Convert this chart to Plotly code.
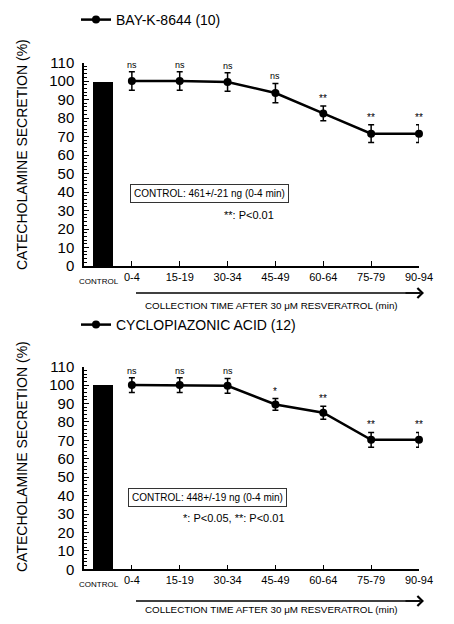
import plotly.graph_objects as go

# ---- data ----
categories = ["0-4", "15-19", "30-34", "45-49", "60-64", "75-79", "90-94"]
control_label = "CONTROL"
control_value = 100

bay_name = "BAY-K-8644 (10)"
bay_values = [100, 100, 99.5, 93.5, 82.5, 71.5, 71.5]
bay_errors = [5, 5, 5, 5.2, 4, 4.8, 4.8]
bay_sig = ["ns", "ns", "ns", "ns", "**", "**", "**"]
bay_box = "CONTROL: 461+/-21 ng (0-4 min)"
bay_p = "**: P<0.01"

cpa_name = "CYCLOPIAZONIC ACID (12)"
cpa_values = [100, 100, 99.6, 89.5, 85, 70.3, 70.3]
cpa_errors = [4, 4, 4, 3.2, 3.5, 4, 4]
cpa_sig = ["ns", "ns", "ns", "*", "**", "**", "**"]
cpa_box = "CONTROL: 448+/-19 ng (0-4 min)"
cpa_p = "*: P<0.05, **: P<0.01"

y_title = "CATECHOLAMINE SECRETION (%)"
x_caption = "COLLECTION TIME AFTER 30 \u03bcM RESVERATROL (min)"

W, H = 454, 624
FONT = "Liberation Sans, Arial, sans-serif"

xpos = list(range(len(categories)))
control_x = -0.6

fig = go.Figure()

panels = [
    dict(name=bay_name, vals=bay_values, errs=bay_errors, sig=bay_sig, box=bay_box, p=bay_p,
         xa="x", ya="y", dom=(1 - 266 / H, 1 - 62.5 / H), legend="legend",
         leg_y=1 - 20 / H, title_y=1 - 155 / H, arrow_y=1 - 293 / H, cap_y=1 - 305 / H,
         box_xy=(1.63, 39), p_xy=(2.45, 27.6)),
    dict(name=cpa_name, vals=cpa_values, errs=cpa_errors, sig=cpa_sig, box=cpa_box, p=cpa_p,
         xa="x2", ya="y2", dom=(1 - 569.3 / H, 1 - 366.7 / H), legend="legend2",
         leg_y=1 - 325 / H, title_y=1 - 457 / H, arrow_y=1 - 601 / H, cap_y=1 - 609.5 / H,
         box_xy=(1.59, 38.8), p_xy=(2.14, 27.9)),
]

annotations = []
shapes = []

for i, pn in enumerate(panels):
    fig.add_trace(go.Bar(x=[control_x], y=[control_value], width=0.42,
                         marker=dict(color="black", line=dict(width=0)),
                         xaxis=pn["xa"], yaxis=pn["ya"], showlegend=False))
    fig.add_trace(go.Scatter(x=xpos, y=pn["vals"], mode="lines+markers", name=pn["name"],
                             line=dict(color="black", width=2.5),
                             marker=dict(color="black", size=8),
                             error_y=dict(type="data", array=pn["errs"], color="black",
                                          thickness=1.5, width=3),
                             cliponaxis=False,
                             xaxis=pn["xa"], yaxis=pn["ya"], legend=pn["legend"]))
    xref = pn["xa"]
    yref = pn["ya"]
    # significance marks
    for xv, v, e, s in zip(xpos, pn["vals"], pn["errs"], pn["sig"]):
        annotations.append(dict(x=xv, y=v + e, xref=xref, yref=yref, text=s, showarrow=False,
                                yanchor="bottom", yshift=0,
                                font=dict(family=FONT, size=9 if s == "ns" else 10, color="black")))
    # control box
    annotations.append(dict(x=pn["box_xy"][0], y=pn["box_xy"][1], xref=xref, yref=yref,
                            text=pn["box"], showarrow=False, bordercolor="#333", borderwidth=1,
                            borderpad=3, bgcolor="white",
                            font=dict(family=FONT, size=10, color="black")))
    annotations.append(dict(x=pn["p_xy"][0], y=pn["p_xy"][1], xref=xref, yref=yref,
                            text=pn["p"], showarrow=False,
                            font=dict(family=FONT, size=11, color="black")))
    # control tick label
    annotations.append(dict(x=control_x, y=0, xref=xref, yref=yref, text=control_label,
                            showarrow=False, yanchor="top", yshift=-9, xshift=-4,
                            font=dict(family=FONT, size=8, color="black")))
    # y title
    annotations.append(dict(x=22 / W, y=pn["title_y"], xref="paper", yref="paper",
                            xanchor="center", yanchor="middle",
                            text=y_title, textangle=-90, showarrow=False,
                            font=dict(family=FONT, size=14, color="black")))
    # arrow caption
    annotations.append(dict(x=271 / W, y=pn["cap_y"], xref="paper", yref="paper",
                            xanchor="center", yanchor="middle",
                            text=x_caption, showarrow=False,
                            font=dict(family=FONT, size=9.8, color="black")))
    # arrow: shaft + head
    shapes.append(dict(type="line", xref="paper", yref="paper",
                       x0=136 / W, x1=420 / W, y0=pn["arrow_y"], y1=pn["arrow_y"],
                       line=dict(color="black", width=1.5)))
    annotations.append(dict(x=424 / W, y=pn["arrow_y"], ax=-20, ay=0,
                            xref="paper", yref="paper", axref="pixel", ayref="pixel",
                            text="", showarrow=True, arrowhead=4, arrowsize=1.3,
                            arrowwidth=1.5, arrowcolor="black"))

axis_common = dict(showgrid=False, zeroline=False, showline=True, linecolor="black",
                   linewidth=1.5, color="black")

layout = dict(
    width=W, height=H, margin=dict(l=0, r=0, t=0, b=0, autoexpand=False),
    paper_bgcolor="white", plot_bgcolor="white",
    font=dict(family=FONT, color="black"),
    annotations=annotations, shapes=shapes, bargap=0,
    legend=dict(x=76 / W, y=1 - 20 / H, xanchor="left", yanchor="middle",
                font=dict(family=FONT, size=14), itemwidth=30, bgcolor="rgba(0,0,0,0)"),
    legend2=dict(x=76 / W, y=1 - 325 / H, xanchor="left", yanchor="middle",
                 font=dict(family=FONT, size=14), itemwidth=30, bgcolor="rgba(0,0,0,0)"),
)

for i, pn in enumerate(panels):
    sfx = "" if i == 0 else "2"
    layout["xaxis" + sfx] = dict(axis_common, domain=[84 / W, 419 / W], range=[-1, 6],
                                 anchor="y" + sfx, tickmode="array", tickvals=xpos,
                                 ticktext=categories, ticks="inside", ticklen=5,
                                 tickfont=dict(family=FONT, size=11), automargin=False)
    layout["yaxis" + sfx] = dict(axis_common, domain=list(pn["dom"]), range=[0, 110],
                                 anchor="x" + sfx, tickmode="linear", tick0=0, dtick=10,
                                 ticks="inside", ticklen=5, tickfont=dict(family=FONT, size=15),
                                 ticklabelstandoff=5,
                                 minor=dict(ticks="inside", ticklen=3, dtick=2, tickcolor="black"),
                                 automargin=False)

fig.update_layout(**layout)
fig.write_html("out.html", config={"displayModeBar": False},
               post_script="document.body.style.margin='0';document.body.style.overflow='hidden';")
